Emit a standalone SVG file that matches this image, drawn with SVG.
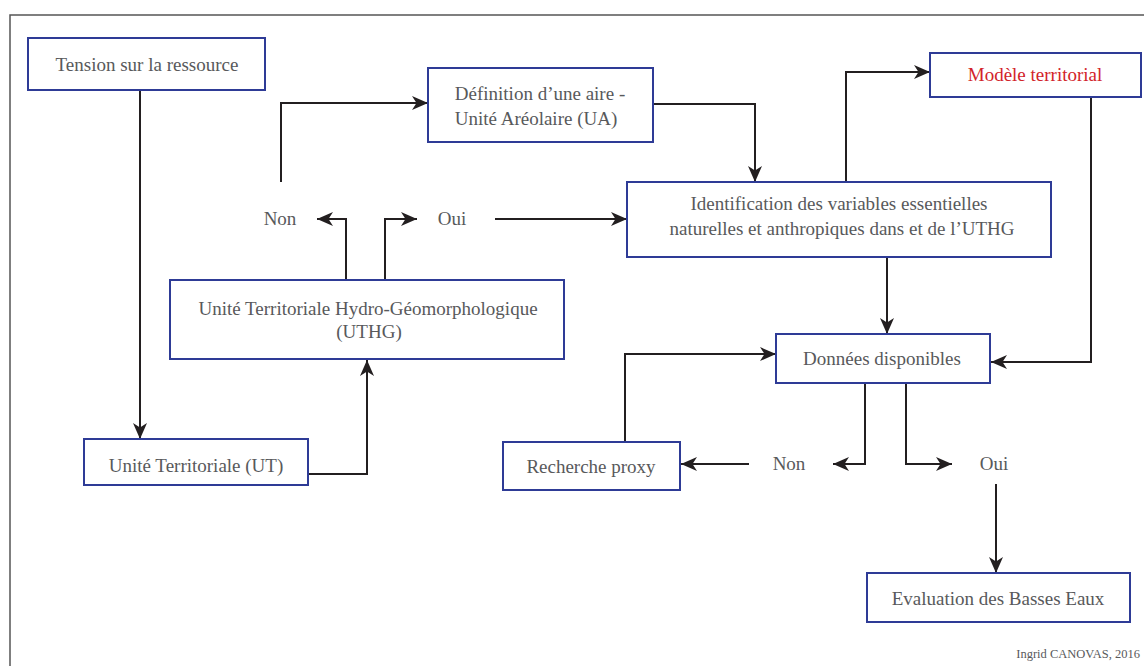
<svg xmlns="http://www.w3.org/2000/svg" width="1144" height="666" viewBox="0 0 1144 666">
<defs>
<style>
.box{fill:#fff;stroke:#2e3b96;stroke-width:2}
.t{font-family:"Liberation Serif","DejaVu Serif",serif;font-size:19px;fill:#58595b;text-anchor:middle}
.red{fill:#d2232a}
.c{fill:none;stroke:#231f20;stroke-width:2;marker-end:url(#ah)}
.credit{font-family:"Liberation Serif","DejaVu Serif",serif;font-size:12.5px;fill:#58595b;text-anchor:end}
</style>
<marker id="ah" markerUnits="userSpaceOnUse" markerWidth="17" markerHeight="15" refX="16" refY="7" orient="auto">
<path d="M0,0 L16,7 L0,14 L4.5,7 Z" fill="#231f20"/>
</marker>
</defs>
<rect x="0" y="0" width="1144" height="666" fill="#fff"/>
<rect x="10" y="15" width="1145" height="670" fill="none" stroke="#555" stroke-width="1.5"/>
<g id="connectors">
<path class="c" d="M140,90 V439"/>
<path class="c" d="M308,474 H367 V360"/>
<path class="c" d="M346,280 V219 H317"/>
<path class="c" d="M385,280 V219 H417"/>
<path class="c" d="M281,182 V103 H428"/>
<path class="c" d="M495,219 H627"/>
<path class="c" d="M653,104 H755 V182"/>
<path class="c" d="M846,182 V72 H930"/>
<path class="c" d="M887,257 V334"/>
<path class="c" d="M1091,97 V362 H991"/>
<path class="c" d="M625,442 V354 H776"/>
<path class="c" d="M865,383 V464 H833"/>
<path class="c" d="M906,383 V464 H952"/>
<path class="c" d="M749,464 H681"/>
<path class="c" d="M996,484 V573"/>
</g>
<g id="tension"><rect class="box" x="28" y="38" width="237" height="52"/><text class="t" x="147" y="71">Tension sur la ressource</text></g>
<g id="definition"><rect class="box" x="428" y="68" width="225" height="74"/><text class="t" x="540" y="100">Définition d’une aire -</text><text class="t" x="536" y="125">Unité Aréolaire (UA)</text></g>
<g id="modele"><rect class="box" x="930" y="53" width="211" height="44"/><text class="t red" x="1035" y="81">Modèle territorial</text></g>
<g id="identification"><rect class="box" x="627" y="182" width="424" height="75"/><text class="t" x="839" y="210">Identification des variables essentielles</text><text class="t" x="842" y="235">naturelles et anthropiques dans et de l’UTHG</text></g>
<g id="non1"><text class="t" x="280" y="225">Non</text></g>
<g id="oui1"><text class="t" x="452" y="225">Oui</text></g>
<g id="uthg"><rect class="box" x="170" y="280" width="394" height="79"/><text class="t" x="368" y="315">Unité Territoriale Hydro-Géomorphologique</text><text class="t" x="369" y="338">(UTHG)</text></g>
<g id="ut"><rect class="box" x="84" y="439" width="224" height="46"/><text class="t" x="196" y="472">Unité Territoriale (UT)</text></g>
<g id="donnees"><rect class="box" x="776" y="334" width="214" height="49"/><text class="t" x="882" y="365">Données disponibles</text></g>
<g id="recherche"><rect class="box" x="503" y="442" width="177" height="48"/><text class="t" x="591" y="473">Recherche proxy</text></g>
<g id="non2"><text class="t" x="789" y="470">Non</text></g>
<g id="oui2"><text class="t" x="994" y="470">Oui</text></g>
<g id="evaluation"><rect class="box" x="867" y="573" width="263" height="49"/><text class="t" x="998" y="605">Evaluation des Basses Eaux</text></g>
<text class="credit" x="1140" y="658">Ingrid CANOVAS, 2016</text>
</svg>
